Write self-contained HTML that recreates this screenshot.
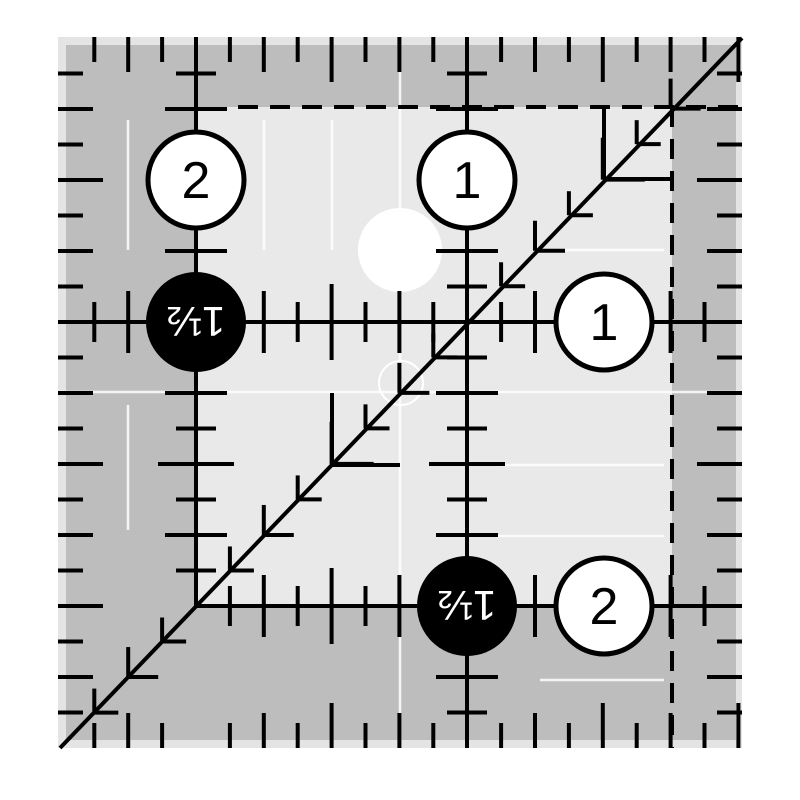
<!DOCTYPE html>
<html><head><meta charset="utf-8"><style>
html,body{margin:0;padding:0;background:#fff;width:800px;height:800px;overflow:hidden}
svg{display:block}
</style></head><body>
<svg id="s" width="800" height="800" viewBox="0 0 800 800" xmlns="http://www.w3.org/2000/svg">
<rect x="58" y="37" width="684" height="711" fill="#e4e4e4"/>
<rect x="66" y="45" width="670" height="695" fill="#bdbdbd"/>
<rect x="196" y="107" width="476" height="499" fill="#e9e9e9"/>
<g stroke="#fff" stroke-width="2.5" opacity="0.85">
<line x1="400" y1="37" x2="400" y2="748"/>
<line x1="58" y1="392" x2="742" y2="392"/>
<line x1="128" y1="120" x2="128" y2="250"/>
<line x1="128" y1="405" x2="128" y2="530"/>
<line x1="264" y1="120" x2="264" y2="250"/>
<line x1="332" y1="120" x2="332" y2="250"/>
<line x1="540" y1="680" x2="664" y2="680"/>
<line x1="496" y1="465" x2="664" y2="465"/>
<line x1="496" y1="536" x2="664" y2="536"/>
<line x1="560" y1="250" x2="664" y2="250"/>
</g>
<circle cx="400" cy="250" r="42" fill="#fff"/>
<circle cx="401" cy="383" r="22" fill="none" stroke="#fff" stroke-width="2"/>
<g id="t" stroke="#000" stroke-width="4" fill="none"></g>
<g stroke="#000" stroke-width="4" stroke-dasharray="20 12" fill="none">
<line x1="238" y1="107" x2="742" y2="107"/>
<line x1="672" y1="107" x2="672" y2="748"/>
</g>
<g font-family="Liberation Sans, sans-serif" font-size="52" text-anchor="middle">
<circle cx="196" cy="180" r="48" fill="#fff" stroke="#000" stroke-width="5"/>
<text x="196" y="198">2</text>
<circle cx="467" cy="180" r="48" fill="#fff" stroke="#000" stroke-width="5"/>
<text x="467" y="198">1</text>
<circle cx="604" cy="322" r="48" fill="#fff" stroke="#000" stroke-width="5"/>
<text x="604" y="340">1</text>
<circle cx="604" cy="606" r="48" fill="#fff" stroke="#000" stroke-width="5"/>
<text x="604" y="624">2</text>
<circle cx="196" cy="322" r="50" fill="#000"/>
<text x="196" y="322" fill="#fff" font-size="42" transform="rotate(180 196 322)" dy="15">1½</text>
<circle cx="467" cy="606" r="50" fill="#000"/>
<text x="467" y="606" fill="#fff" font-size="42" transform="rotate(180 467 606)" dy="15">1½</text>
</g>
</svg>
<script>
(function(){
var g=document.getElementById('t'),s='';
function L(a,b,c,d){s+='<line x1="'+a+'" y1="'+b+'" x2="'+c+'" y2="'+d+'"/>';}
var dx=33.9,dy=35.5;
function len(k,a,b,c){k=((k%8)+8)%8;return k%4==0?c:(k%2==0?b:a);}
for(var k=-3;k<=16;k++){var x=196+k*dx;if(x<60||x>740)continue;
 if(k==0||k==8)continue;
 var l=len(k,25,35,45);L(x,37,x,37+l);L(x,748,x,748-l);}
for(var j=-8;j<=12;j++){var y=322+j*dy;if(y<40||y>745)continue;
 if(j==0)continue;
 var l=len(j,25,35,45);L(58,y,58+l,y);L(742,y,742-l,y);}
L(196,37,196,606);L(467,37,467,748);L(58,322,742,322);L(196,606,742,606);
for(var j=-8;j<=12;j++){var y=322+j*dy;if(y<50||y>740)continue;if(j==0||j==8)continue;
 var h=len(j,20,31,38);
 if(y<606)L(196-h,y,196+h,y);
 L(467-h,y,467+h,y);}
for(var k=-3;k<=16;k++){var x=196+k*dx;if(x<62||x>738)continue;if(k==0||k==8)continue;
 var h=len(k,20,31,38);L(x,322-h,x,322+h);if(x>196)L(x,606-h,x,606+h);}
L(60,748,742,38);
var m=(606-322)/(467-196);
for(var k=-3;k<=14;k++){if(k==0||k==8)continue;var x=196+k*dx;var y=606-(x-196)*m;
 if(x<75||y<50)continue;var l=len(k,24,30,42);
 L(x,y,x,y-l);L(x,y,x+l,y);}
L(332,465,332,393);L(332,465,400,465);L(604,179,604,107);L(604,179,672,179);
g.innerHTML=s;
})();
</script>
</body></html>
